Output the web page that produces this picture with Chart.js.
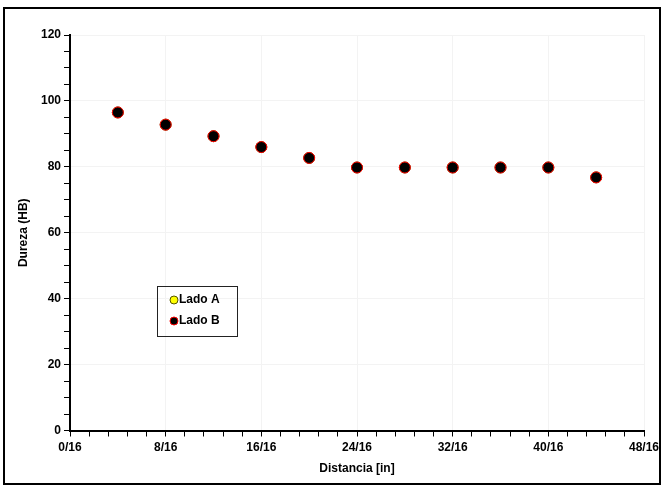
<!DOCTYPE html>
<html>
<head>
<meta charset="utf-8">
<script src="https://cdn.jsdelivr.net/npm/chart.js@4"></script>
<style>
  body { margin: 0; background: #fff; }
  #marco {
    position: absolute; left: 3px; top: 7px;
    width: 654px; height: 474px;
    border: 2px solid #000;
  }
</style>
</head>
<body>
<div id="marco"><canvas id="grafico" width="654" height="474"></canvas></div>
<script>
// distancia en dieciseisavos de pulgada
const distancia16 = [4, 8, 12, 16, 20, 24, 28, 32, 36, 40, 44];
const durezaA = [96.5, 92.8, 89.3, 86, 82.7, 79.8, 79.8, 79.8, 79.8, 79.8, 76.8];
const durezaB = [96.5, 92.8, 89.3, 86, 82.7, 79.8, 79.8, 79.8, 79.8, 79.8, 76.8];
const etiquetas = ['Lado A', 'Lado B'];

const fuente = { family: 'Liberation Sans, Arial', size: 12, weight: 'bold' };

function puntos(xs, ys) {
    return xs.map((x, i) => ({ x: x, y: ys[i] }));
}

// leyenda dentro del area del grafico, con recuadro
const leyendaCaja = {
    id: 'leyendaCaja',
    afterDraw(chart, args, opts) {
        const ctx = chart.ctx;
        ctx.save();
        ctx.strokeStyle = '#222';
        ctx.lineWidth = 1;
        ctx.strokeRect(opts.x + 0.5, opts.y + 0.5, opts.w, opts.h);
        ctx.font = 'bold 12px "Liberation Sans", Arial';
        ctx.textBaseline = 'middle';
        chart.data.datasets.forEach((ds, i) => {
            const cy = opts.y + 14 + i * 21;
            ctx.beginPath();
            ctx.arc(opts.x + 17, cy, 4, 0, Math.PI * 2);
            ctx.fillStyle = ds.backgroundColor;
            ctx.fill();
            ctx.strokeStyle = ds.borderColor;
            ctx.stroke();
            ctx.fillStyle = '#000';
            ctx.fillText(ds.label, opts.x + 22, cy);
        });
        ctx.restore();
    }
};

const esMayor = (v, paso) => Math.abs(v / paso - Math.round(v / paso)) < 1e-6;

new Chart(document.getElementById('grafico').getContext('2d'), {
    type: 'scatter',
    data: {
        datasets: [{
            label: etiquetas[0],
            data: puntos(distancia16, durezaA),
            backgroundColor: '#ffff00',
            borderColor: '#555500',
            borderWidth: 1,
            pointRadius: 5.5,
            order: 2
        }, {
            label: etiquetas[1],
            data: puntos(distancia16, durezaB),
            backgroundColor: '#000000',
            borderColor: '#ff0000',
            borderWidth: 1,
            pointRadius: 5.5,
            order: 1
        }]
    },
    options: {
        responsive: false,
        animation: false,
        layout: { padding: { top: 26, right: 15, bottom: 0, left: 0 } },
        plugins: {
            legend: { display: false },
            tooltip: { enabled: false },
            leyendaCaja: { x: 152, y: 277, w: 80, h: 50 }
        },
        scales: {
            x: {
                type: 'linear',
                min: 0, max: 48,
                border: { color: '#000', width: 2 },
                grid: {
                    color: c => (c.tick && esMayor(c.tick.value, 8)) ? '#f3f3f3' : 'rgba(0,0,0,0)',
                    tickColor: '#000',
                    tickLength: 6
                },
                ticks: {
                    stepSize: 1.6,
                    autoSkip: false,
                    maxRotation: 0,
                    padding: 4,
                    color: '#000',
                    font: fuente,
                    callback: v => esMayor(v, 8) ? Math.round(v) + '/16' : ''
                },
                title: {
                    display: true, text: 'Distancia [in]', color: '#000', font: fuente,
                    padding: { top: 0, bottom: 7 }
                },
                afterFit: s => { s.height = 52.5; s.paddingLeft = 0; s.paddingRight = 0; }
            },
            y: {
                min: 0, max: 120,
                border: { color: '#000', width: 2 },
                grid: {
                    color: c => (c.tick && esMayor(c.tick.value, 20)) ? '#f3f3f3' : 'rgba(0,0,0,0)',
                    tickColor: '#000',
                    tickLength: 6
                },
                ticks: {
                    stepSize: 5,
                    autoSkip: false,
                    padding: 3,
                    color: '#000',
                    font: fuente,
                    callback: v => esMayor(v, 20) ? String(v) : ''
                },
                title: {
                    display: true, text: 'Dureza (HB)', color: '#000', font: fuente,
                    padding: { top: 11, bottom: 0 }
                },
                afterFit: s => { s.width = 65; }
            }
        }
    },
    plugins: [leyendaCaja]
});
</script>
</body>
</html>
